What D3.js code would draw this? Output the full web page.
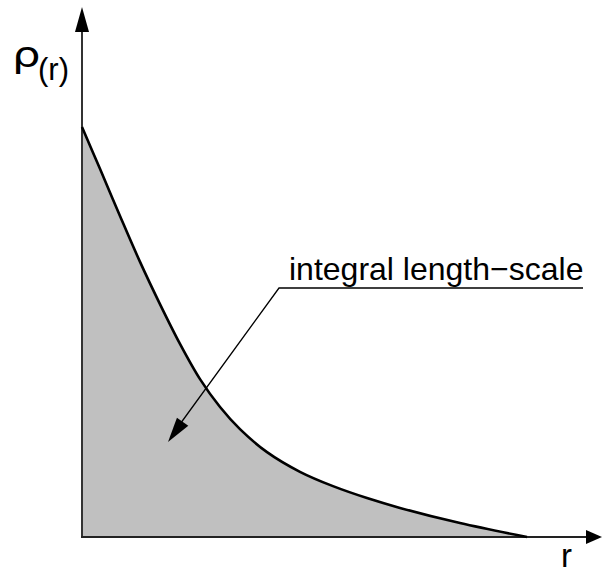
<!DOCTYPE html>
<html>
<head>
<meta charset="utf-8">
<script src="https://cdn.jsdelivr.net/npm/d3@7"></script>
<style>
  html, body { margin: 0; padding: 0; background: #fff; }
  svg { display: block; }
  text { fill: #000; }
</style>
</head>
<body>
<svg id="chart" width="602" height="574"></svg>
<script>
// Autocorrelation coefficient ρ(r) against separation r
const rValues   = [0, 0.202, 0.427, 0.652, 0.876, 1.101, 1.326, 1.551, 1.775, 2.079, 2.449, 2.82, 3.202, 3.573, 4.247, 5.0];
const rhoValues = [1.0, 0.898, 0.783, 0.671, 0.568, 0.471, 0.385, 0.317, 0.263, 0.207, 0.159, 0.124, 0.095, 0.071, 0.034, 0.0];
const axisLabels = { y: "ρ", ySub: "(r)", x: "r" };
const annotation = "integral length\u2212scale";

const data = rValues.map((r, i) => ({ r, rho: rhoValues[i] }));
const sans = "'Liberation Sans', Arial, sans-serif";

const svg = d3.select("#chart");
const x = d3.scaleLinear().domain([0, 5]).range([82, 527]);
const y = d3.scaleLinear().domain([0, 1]).range([537, 127]);
const smooth = d3.curveCatmullRom.alpha(0.5);

// shaded area under the curve (the integral)
const area = d3.area()
  .x(d => x(d.r))
  .y0(y(0))
  .y1(d => y(d.rho))
  .curve(smooth);

svg.append("path")
  .datum(data)
  .attr("d", area)
  .attr("fill", "#c0c0c0");

// axes with arrowheads
const x0 = x(0), y0 = y(0);
svg.append("line")
  .attr("x1", x0).attr("y1", y0 + 1).attr("x2", x0).attr("y2", 28)
  .attr("stroke", "#333").attr("stroke-width", 2);
svg.append("path")
  .attr("d", `M${x0},7 L${x0 - 7},32 L${x0 + 7},32 Z`)
  .attr("fill", "#000");

svg.append("line")
  .attr("x1", x0 - 1).attr("y1", y0).attr("x2", 590).attr("y2", y0)
  .attr("stroke", "#222").attr("stroke-width", 2);
svg.append("path")
  .attr("d", `M602,${y0} L586,${y0 - 7} L586,${y0 + 7} Z`)
  .attr("fill", "#000");

// correlation curve
const line = d3.line()
  .x(d => x(d.r))
  .y(d => y(d.rho))
  .curve(smooth);

svg.append("path")
  .datum(data)
  .attr("d", line)
  .attr("fill", "none")
  .attr("stroke", "#000")
  .attr("stroke-width", 2.6)
  .attr("stroke-linejoin", "round");

// axis labels
svg.append("text")
  .attr("transform", "translate(12,67) scale(1.25,1)")
  .style("font-family", "'DejaVu Sans', sans-serif")
  .style("font-size", "36px")
  .text(axisLabels.y);
svg.append("text")
  .attr("x", 38).attr("y", 80)
  .style("font-family", sans)
  .style("font-size", "31px")
  .text(axisLabels.ySub);
svg.append("text")
  .attr("x", 561).attr("y", 567)
  .style("font-family", sans)
  .style("font-size", "33px")
  .text(axisLabels.x);

// annotation with leader line and arrow
svg.append("text")
  .attr("x", 289).attr("y", 280)
  .style("font-family", sans)
  .style("font-size", "32px")
  .text(annotation);
svg.append("path")
  .attr("d", "M583,288 L279,288 L175,431")
  .attr("fill", "none")
  .attr("stroke", "#000")
  .attr("stroke-width", 1.3);
// arrowhead pointing into the shaded area
const tip = [168, 442], dir = Math.atan2(442 - 288, 168 - 279);
const len = 25, half = 7;
const bx = tip[0] - len * Math.cos(dir), by = tip[1] - len * Math.sin(dir);
const px = -Math.sin(dir) * half, py = Math.cos(dir) * half;
svg.append("path")
  .attr("d", `M${tip[0]},${tip[1]} L${bx + px},${by + py} L${bx - px},${by - py} Z`)
  .attr("fill", "#000");
</script>
</body>
</html>
